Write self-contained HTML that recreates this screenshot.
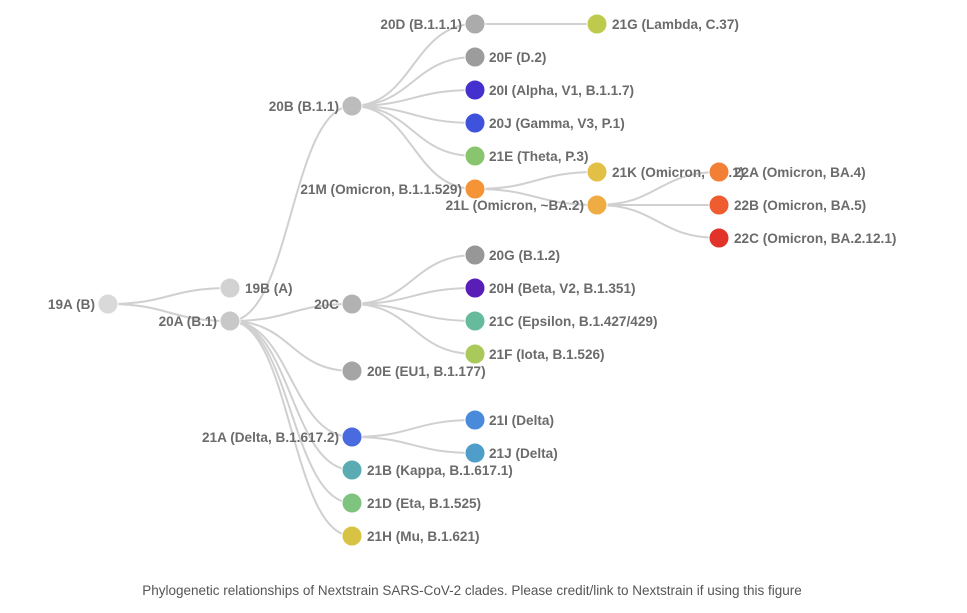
<!DOCTYPE html>
<html><head><meta charset="utf-8"><style>
html,body{margin:0;padding:0;background:#fff;}
svg{display:block;}
text{font-family:"Liberation Sans",Arial,sans-serif;font-size:13.6px;font-weight:bold;fill:#6b6b6b;}
.cap{font-weight:normal;font-size:13.5px;fill:#555;}
path{fill:none;stroke:#d0d0d0;stroke-width:2;}
circle{stroke:#fff;stroke-width:1;}
</style></head><body>
<svg width="967" height="613" viewBox="0 0 967 613" xmlns="http://www.w3.org/2000/svg">
<g id="links">
<path d="M108 304 C169 304,169 288,230 288"/>
<path d="M108 304 C169 304,169 321,230 321"/>
<path d="M230 321 C291 321,291 106,352 106"/>
<path d="M230 321 C291 321,291 304,352 304"/>
<path d="M230 321 C291 321,291 371,352 371"/>
<path d="M230 321 C291 321,291 437,352 437"/>
<path d="M230 321 C291 321,291 470,352 470"/>
<path d="M230 321 C291 321,291 503,352 503"/>
<path d="M230 321 C291 321,291 536,352 536"/>
<path d="M352 106 C413 106,413 24,475 24"/>
<path d="M352 106 C413 106,413 57,475 57"/>
<path d="M352 106 C413 106,413 90,475 90"/>
<path d="M352 106 C413 106,413 123,475 123"/>
<path d="M352 106 C413 106,413 156,475 156"/>
<path d="M352 106 C413 106,413 189,475 189"/>
<path d="M475 24 L597 24"/>
<path d="M475 189 C536 189,536 172,597 172"/>
<path d="M475 189 C536 189,536 205,597 205"/>
<path d="M597 205 C658 205,658 172,719 172"/>
<path d="M597 205 L719 205"/>
<path d="M597 205 C658 205,658 238,719 238"/>
<path d="M352 304 C413 304,413 255,475 255"/>
<path d="M352 304 C413 304,413 288,475 288"/>
<path d="M352 304 C413 304,413 321,475 321"/>
<path d="M352 304 C413 304,413 354,475 354"/>
<path d="M352 437 C413 437,413 420,475 420"/>
<path d="M352 437 C413 437,413 453,475 453"/>
</g>
<g id="labels-left" text-anchor="end">
<text x="95" y="309">19A (B)</text>
<text x="217" y="326">20A (B.1)</text>
<text x="339" y="111">20B (B.1.1)</text>
<text x="339" y="309">20C</text>
<text x="339" y="442">21A (Delta, B.1.617.2)</text>
<text x="462" y="29">20D (B.1.1.1)</text>
<text x="462" y="194">21M (Omicron, B.1.1.529)</text>
<text x="584" y="210">21L (Omicron, ~BA.2)</text>
</g>
<g id="labels-right">
<text x="245" y="293">19B (A)</text>
<text x="367" y="376">20E (EU1, B.1.177)</text>
<text x="367" y="475">21B (Kappa, B.1.617.1)</text>
<text x="367" y="508">21D (Eta, B.1.525)</text>
<text x="367" y="541">21H (Mu, B.1.621)</text>
<text x="489" y="62">20F (D.2)</text>
<text x="489" y="95">20I (Alpha, V1, B.1.1.7)</text>
<text x="489" y="128">20J (Gamma, V3, P.1)</text>
<text x="489" y="161">21E (Theta, P.3)</text>
<text x="489" y="260">20G (B.1.2)</text>
<text x="489" y="293">20H (Beta, V2, B.1.351)</text>
<text x="489" y="326">21C (Epsilon, B.1.427/429)</text>
<text x="489" y="359">21F (Iota, B.1.526)</text>
<text x="489" y="425">21I (Delta)</text>
<text x="489" y="458">21J (Delta)</text>
<text x="612" y="29">21G (Lambda, C.37)</text>
<text x="612" y="177">21K (Omicron, BA.1)</text>
</g>
<g id="nodes">
<circle cx="108" cy="304" r="10" fill="#d9d9d9"/>
<circle cx="230" cy="288" r="10" fill="#d2d2d2"/>
<circle cx="230" cy="321" r="10" fill="#c8c8c8"/>
<circle cx="352" cy="106" r="10" fill="#bcbcbc"/>
<circle cx="352" cy="304" r="10" fill="#b2b2b2"/>
<circle cx="352" cy="371" r="10" fill="#a5a5a5"/>
<circle cx="352" cy="437" r="10" fill="#4a6ae0"/>
<circle cx="352" cy="470" r="10" fill="#5aabb2"/>
<circle cx="352" cy="503" r="10" fill="#7ec47f"/>
<circle cx="352" cy="536" r="10" fill="#d6c343"/>
<circle cx="475" cy="24" r="10" fill="#ababab"/>
<circle cx="475" cy="57" r="10" fill="#9c9c9c"/>
<circle cx="475" cy="90" r="10" fill="#4430cc"/>
<circle cx="475" cy="123" r="10" fill="#3f52dc"/>
<circle cx="475" cy="156" r="10" fill="#89c46e"/>
<circle cx="475" cy="189" r="10" fill="#f49437"/>
<circle cx="475" cy="255" r="10" fill="#979797"/>
<circle cx="475" cy="288" r="10" fill="#5a1eb8"/>
<circle cx="475" cy="321" r="10" fill="#66bb9c"/>
<circle cx="475" cy="354" r="10" fill="#a9c95a"/>
<circle cx="475" cy="420" r="10" fill="#4a8adb"/>
<circle cx="475" cy="453" r="10" fill="#4f9ec9"/>
<circle cx="597" cy="24" r="10" fill="#bdca4c"/>
<circle cx="597" cy="172" r="10" fill="#e2c046"/>
<circle cx="597" cy="205" r="10" fill="#eeac42"/>
<circle cx="719" cy="172" r="10" fill="#f27f35"/>
<circle cx="719" cy="205" r="10" fill="#ee5c2f"/>
<circle cx="719" cy="238" r="10" fill="#e2332a"/>
</g>
<g id="labels-far">
<text x="734" y="177">22A (Omicron, BA.4)</text>
<text x="734" y="210">22B (Omicron, BA.5)</text>
<text x="734" y="243">22C (Omicron, BA.2.12.1)</text>
</g>
<text class="cap" x="472" y="595" text-anchor="middle">Phylogenetic relationships of Nextstrain SARS-CoV-2 clades. Please credit/link to Nextstrain if using this figure</text>
</svg>
</body></html>
